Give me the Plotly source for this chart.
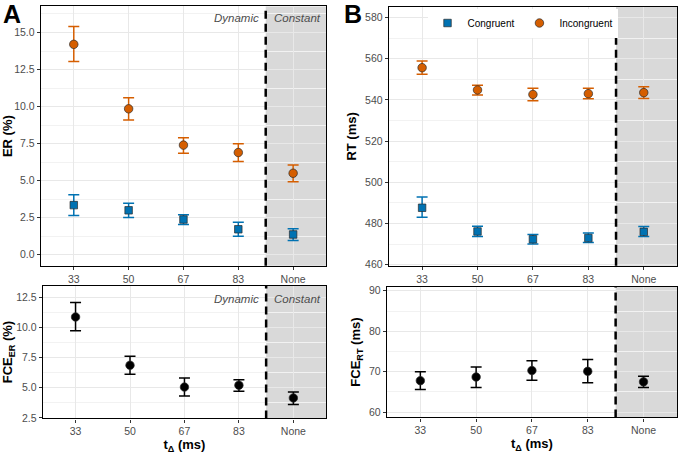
import plotly.graph_objects as go

categories = ["33", "50", "67", "83", "None"]

# Panel A top: ER (%)
er_incong = [14.2, 9.85, 7.4, 6.9, 5.5]
er_incong_lo = [13.05, 9.1, 6.85, 6.3, 4.92]
er_incong_hi = [15.4, 10.6, 7.9, 7.5, 6.05]
er_cong = [3.35, 3.0, 2.38, 1.72, 1.37]
er_cong_lo = [2.65, 2.52, 2.05, 1.25, 0.97]
er_cong_hi = [4.05, 3.48, 2.7, 2.2, 1.75]

# Panel A bottom: FCE_ER (%)
fce_er = [10.85, 6.85, 5.05, 5.2, 4.15]
fce_er_lo = [9.7, 6.1, 4.3, 4.7, 3.6]
fce_er_hi = [12.05, 7.6, 5.8, 5.65, 4.65]

# Panel B top: RT (ms)
rt_incong = [555.6, 544.8, 542.6, 543.0, 543.5]
rt_incong_lo = [552.4, 542.4, 539.6, 540.5, 540.6]
rt_incong_hi = [558.9, 547.1, 545.6, 545.6, 546.4]
rt_cong = [487.6, 476.1, 472.3, 472.9, 475.9]
rt_cong_lo = [483.0, 473.6, 470.0, 470.7, 473.6]
rt_cong_hi = [492.8, 478.6, 474.6, 475.4, 478.5]

# Panel B bottom: FCE_RT (ms)
fce_rt = [67.8, 68.7, 70.3, 70.1, 67.5]
fce_rt_lo = [65.6, 66.1, 67.9, 67.3, 66.1]
fce_rt_hi = [70.0, 71.2, 72.7, 73.0, 68.9]

ORANGE = "#D55E00"
BLUE = "#0072B2"
FONT = "Liberation Sans"
W, H = 678, 454


def err(v, lo, hi):
    return dict(type="data", symmetric=False,
                array=[h - x for x, h in zip(v, hi)],
                arrayminus=[x - l for x, l in zip(v, lo)])


def trace(v, lo, hi, color, symbol, name, xa, ya, show, size):
    e = err(v, lo, hi)
    e.update(color=color, thickness=1.5, width=5.5)
    return go.Scatter(
        x=categories, y=v, mode="markers", name=name, showlegend=show,
        legendgroup=name,
        marker=dict(color=color, symbol=symbol, size=size,
                    line=dict(color="#2b2b2b", width=0.7)),
        error_y=e, xaxis=xa, yaxis=ya)


fig = go.Figure()
fig.add_trace(trace(er_cong, er_cong_lo, er_cong_hi, BLUE, "square", "Congruent", "x", "y", False, 7.5))
fig.add_trace(trace(er_incong, er_incong_lo, er_incong_hi, ORANGE, "circle", "Incongruent", "x", "y", False, 8.5))
fig.add_trace(trace(fce_er, fce_er_lo, fce_er_hi, "black", "circle", "FCE ER", "x2", "y2", False, 8.5))
fig.add_trace(trace(rt_cong, rt_cong_lo, rt_cong_hi, BLUE, "square", "Congruent", "x3", "y3", True, 7.5))
fig.add_trace(trace(rt_incong, rt_incong_lo, rt_incong_hi, ORANGE, "circle", "Incongruent", "x3", "y3", True, 8.5))
fig.add_trace(trace(fce_rt, fce_rt_lo, fce_rt_hi, "black", "circle", "FCE RT", "x4", "y4", False, 8.5))


def xd(a, b):
    return [a / W, b / W]


def yd(top, bottom):
    return [1 - bottom / H, 1 - top / H]


GRID = "#e8e8e8"
axis_common = dict(showline=True, linecolor="black", linewidth=1.3, mirror=True,
                   ticks="outside", ticklen=3, tickcolor="#333333", tickwidth=1,
                   tickfont=dict(family=FONT, size=10.5, color="#4d4d4d"),
                   showgrid=True, gridcolor=GRID, gridwidth=1, zeroline=False)

xranges = [-0.6, 4.6]


def xaxis(dom, anchor, title=None):
    d = dict(axis_common, domain=dom, anchor=anchor, type="category",
             categoryorder="array", categoryarray=categories, range=xranges)
    if title:
        d["title"] = dict(text=title, font=dict(family=FONT, size=13, color="black"), standoff=2)
    return d


def yaxis(dom, anchor, rng, dtick, minor, title, fmt):
    d = dict(axis_common, domain=dom, anchor=anchor, range=rng, dtick=dtick, tick0=0,
             tickformat=fmt,
             minor=dict(dtick=minor, tick0=0, showgrid=True, gridcolor="#f2f2f2", gridwidth=0.8, ticks=""),
             title=dict(text=title, font=dict(family=FONT, size=13, color="black"), standoff=5))
    return d


fig.update_layout(
    width=W, height=H, margin=dict(l=0, r=0, t=0, b=0),
    paper_bgcolor="white", plot_bgcolor="white",
    font=dict(family=FONT, color="black"),
    xaxis=xaxis(xd(39, 325), "y"),
    yaxis=yaxis(yd(4.5, 268), "x", [-0.75, 16.76], 2.5, 1.25, "<b>ER (%)</b>", ".1f"),
    xaxis2=xaxis(xd(41, 325), "y2", "<b>t<sub>Δ</sub> (ms)</b>"),
    yaxis2=yaxis(yd(288, 423), "x2", [2.45, 13.45], 2.5, 1.25, "<b>FCE<sub>ER</sub> (%)</b>", ".1f"),
    xaxis3=xaxis(xd(388, 677), "y3"),
    yaxis3=yaxis(yd(5, 268), "x3", [459.4, 585.1], 20, 10, "<b>RT (ms)</b>", "d"),
    xaxis4=xaxis(xd(386, 677), "y4", "<b>t<sub>Δ</sub> (ms)</b>"),
    yaxis4=yaxis(yd(289, 422), "x4", [58.7, 91.05], 10, 5, "<b>FCE<sub>RT</sub> (ms)</b>", "d"),
    legend=dict(orientation="h", x=0.77, xanchor="center", y=0.953, yanchor="middle",
                bgcolor="white", font=dict(family=FONT, size=10, color="black"),
                itemwidth=30, tracegroupgap=0),
)

for xa, ya in [("x", "y"), ("x2", "y2"), ("x3", "y3"), ("x4", "y4")]:
    fig.add_shape(type="rect", xref=xa, yref=f"{ya} domain", x0=3.5, x1=4.6, y0=0, y1=1,
                  fillcolor="#d9d9d9", line=dict(width=0), layer="below")
    fig.add_shape(type="line", xref=xa, yref=f"{ya} domain", x0=3.5, x1=3.5, y0=0, y1=1,
                  line=dict(color="black", width=2.5, dash="8px,5px"), layer="above")

for xa, ya in [("x", "y"), ("x2", "y2")]:
    fig.add_annotation(x=3.5, y=0.955 if ya == "y" else 0.9, xref=xa, yref=f"{ya} domain",
                       text="<i>Dynamic</i>", showarrow=False, xanchor="right", yanchor="middle",
                       xshift=-5, font=dict(family=FONT, size=11.5, color="#4d4d4d"))
    fig.add_annotation(x=3.5, y=0.955 if ya == "y" else 0.9, xref=xa, yref=f"{ya} domain",
                       text="<i>Constant</i>", showarrow=False, xanchor="left", yanchor="middle",
                       xshift=6, font=dict(family=FONT, size=11.5, color="#4d4d4d"))

fig.add_annotation(x=0, y=1, xref="paper", yref="paper", text="<b>A</b>", showarrow=False,
                   xanchor="left", yanchor="top", xshift=-1, yshift=4,
                   font=dict(family=FONT, size=25, color="black"))
fig.add_annotation(x=341 / W, y=1, xref="paper", yref="paper", text="<b>B</b>", showarrow=False,
                   xanchor="left", yanchor="top", yshift=4,
                   font=dict(family=FONT, size=25, color="black"))

fig.write_html("out.html")
